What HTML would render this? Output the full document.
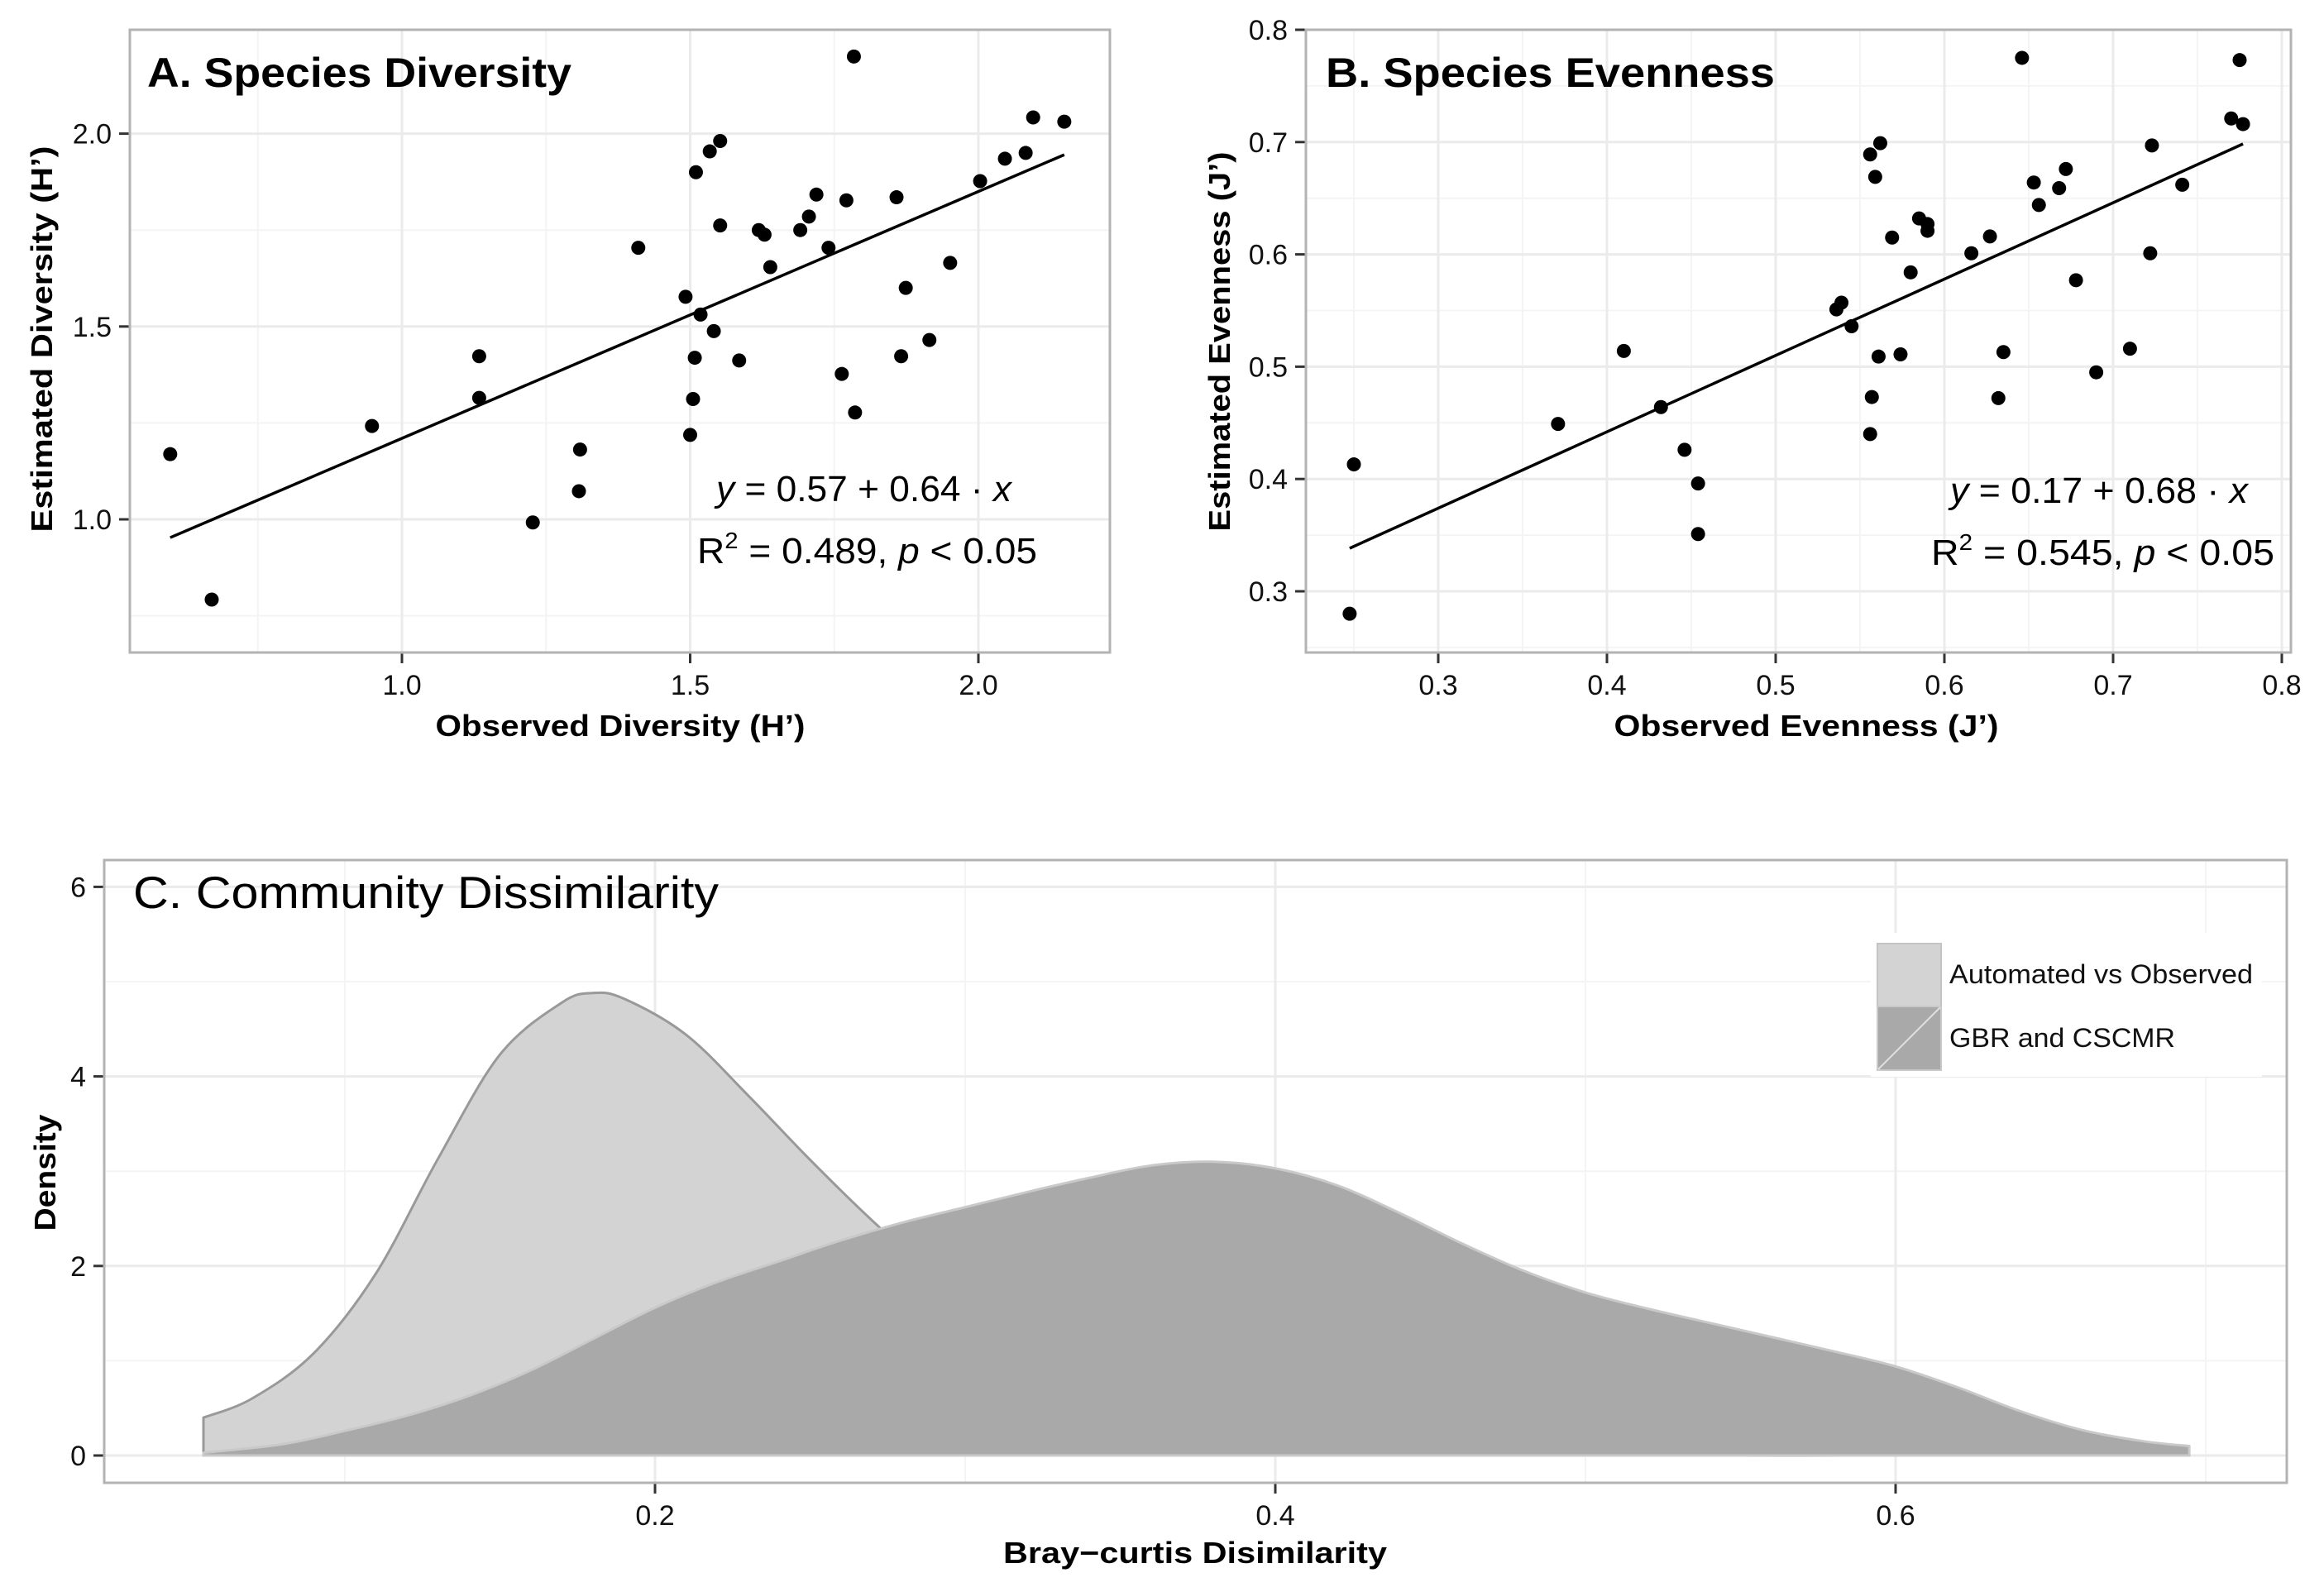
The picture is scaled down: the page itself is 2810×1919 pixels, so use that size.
<!DOCTYPE html>
<html><head><meta charset="utf-8"><style>
html,body{margin:0;padding:0;background:#fff;}
svg{display:block;font-family:"Liberation Sans","DejaVu Sans",sans-serif;}
</style></head><body>
<svg id="fig" width="2810" height="1919" viewBox="0 0 2810 1919" xmlns="http://www.w3.org/2000/svg">
<rect x="0" y="0" width="2810" height="1919" fill="#fff"/>
<g id="gA"></g>
<g id="gB"></g>
<g id="gC"></g>

<text x="178" y="105" font-size="50" font-weight="bold" textLength="513" lengthAdjust="spacingAndGlyphs">A. Species Diversity</text>
<text x="750" y="890" font-size="36" font-weight="bold" text-anchor="middle" textLength="447" lengthAdjust="spacingAndGlyphs">Observed Diversity (H’)</text>
<text transform="translate(63,410) rotate(-90)" font-size="36" font-weight="bold" text-anchor="middle" textLength="467" lengthAdjust="spacingAndGlyphs">Estimated Diversity (H’)</text>
<text x="866" y="606" font-size="44" textLength="357" lengthAdjust="spacingAndGlyphs"><tspan font-style="italic">y</tspan> = 0.57 + 0.64 · <tspan font-style="italic">x</tspan></text>
<text x="843" y="681" font-size="44" textLength="411" lengthAdjust="spacingAndGlyphs">R<tspan dy="-18" font-size="28">2</tspan><tspan dy="18"> = 0.489, </tspan><tspan font-style="italic">p</tspan> &lt; 0.05</text>

<text x="1603" y="105" font-size="50" font-weight="bold" textLength="543" lengthAdjust="spacingAndGlyphs">B. Species Evenness</text>
<text x="2184" y="890" font-size="36" font-weight="bold" text-anchor="middle" textLength="465" lengthAdjust="spacingAndGlyphs">Observed Evenness (J’)</text>
<text transform="translate(1487,413) rotate(-90)" font-size="36" font-weight="bold" text-anchor="middle" textLength="459" lengthAdjust="spacingAndGlyphs">Estimated Evenness (J’)</text>
<text x="2358" y="608" font-size="44" textLength="360" lengthAdjust="spacingAndGlyphs"><tspan font-style="italic">y</tspan> = 0.17 + 0.68 · <tspan font-style="italic">x</tspan></text>
<text x="2335" y="683" font-size="44" textLength="415" lengthAdjust="spacingAndGlyphs">R<tspan dy="-18" font-size="28">2</tspan><tspan dy="18"> = 0.545, </tspan><tspan font-style="italic">p</tspan> &lt; 0.05</text>

<text x="1445" y="1890" font-size="36" font-weight="bold" text-anchor="middle" textLength="464" lengthAdjust="spacingAndGlyphs">Bray−curtis Disimilarity</text>
<text transform="translate(67,1418) rotate(-90)" font-size="36" font-weight="bold" text-anchor="middle" textLength="141" lengthAdjust="spacingAndGlyphs">Density</text>
</svg>
<script>
// ---------- Panel A data ----------
const diversityObserved = [0.598,0.670,0.948,1.134,1.134,1.227,1.309,1.307,1.410,1.492,1.500,1.505,1.508,1.510,1.518,1.541,1.534,1.552,1.552,1.585,1.619,1.629,1.639,1.691,1.706,1.719,1.740,1.763,1.771,1.784,1.786,1.858,1.866,1.874,1.915,1.951,2.003,2.046,2.082,2.095,2.149];
const diversityEstimated = [1.169,0.792,1.242,1.423,1.315,0.992,1.181,1.073,1.704,1.577,1.219,1.312,1.419,1.900,1.531,1.488,1.954,1.981,1.762,1.412,1.750,1.738,1.654,1.750,1.785,1.842,1.704,1.377,1.827,2.200,1.277,1.835,1.423,1.600,1.465,1.665,1.877,1.935,1.950,2.042,2.031];
const diversityFit = [0.57, 0.64];
const diversityXTicks = ["1.0","1.5","2.0"];
const diversityYTicks = ["1.0","1.5","2.0"];
// ---------- Panel B data ----------
const evennessObserved = [0.2475,0.250,0.371,0.410,0.432,0.446,0.454,0.454,0.536,0.539,0.545,0.556,0.556,0.557,0.559,0.561,0.562,0.569,0.574,0.580,0.585,0.590,0.590,0.616,0.627,0.632,0.635,0.646,0.653,0.656,0.668,0.672,0.678,0.690,0.710,0.722,0.723,0.741,0.770,0.775,0.777];
const evennessEstimated = [0.280,0.413,0.449,0.514,0.464,0.426,0.396,0.351,0.551,0.557,0.536,0.689,0.440,0.473,0.669,0.509,0.699,0.615,0.511,0.584,0.632,0.627,0.621,0.601,0.616,0.472,0.513,0.775,0.664,0.644,0.659,0.676,0.577,0.495,0.516,0.601,0.697,0.662,0.721,0.773,0.716];
const evennessFit = [0.17, 0.68];
const evennessXTicks = ["0.3","0.4","0.5","0.6","0.7","0.8"];
const evennessYTicks = ["0.3","0.4","0.5","0.6","0.7","0.8"];
// ---------- Panel C data ----------
const autoX = [0.0544,0.07,0.09,0.11,0.13,0.15,0.17,0.18,0.19,0.21,0.23,0.25,0.27,0.29,0.31,0.33,0.35,0.40,0.45,0.50,0.55,0.60,0.65,0.6947];
const autoY = [0.40,0.60,1.08,1.92,3.13,4.23,4.78,4.88,4.82,4.44,3.80,3.12,2.48,1.90,1.40,1.00,0.66,0.22,0.06,0.01,0,0,0,0];
const gbrX = [0.0544,0.08,0.10,0.12,0.14,0.16,0.18,0.20,0.22,0.24,0.26,0.28,0.30,0.32,0.34,0.36,0.38,0.40,0.42,0.44,0.46,0.48,0.50,0.52,0.54,0.56,0.58,0.60,0.62,0.64,0.66,0.68,0.6947];
const gbrY = [0.03,0.12,0.26,0.42,0.63,0.90,1.23,1.56,1.83,2.05,2.27,2.46,2.62,2.78,2.93,3.06,3.10,3.03,2.85,2.56,2.24,1.95,1.72,1.55,1.40,1.25,1.10,0.94,0.72,0.47,0.27,0.15,0.10];
const densityXTicks = ["0.2","0.4","0.6"];
const densityYTicks = ["0","2","4","6"];
const legendLabels = ["Automated vs Observed","GBR and CSCMR"];

const NS = "http://www.w3.org/2000/svg";
function mk(parent, tag, attrs){
  const e = document.createElementNS(NS, tag);
  for (const k in attrs) e.setAttribute(k, attrs[k]);
  parent.appendChild(e);
  return e;
}
function lin(d0,d1,r0,r1){ return v => r0 + (v-d0)/(d1-d0)*(r1-r0); }

function frame(g, box, sx, sy, xMajor, xMinor, yMajor, yMinor, xLabels, yLabels, prefix){
  for (const v of yMinor){
    const l = mk(g,'line',{x1:box.l,x2:box.r,y1:sy(v),y2:sy(v),stroke:'#f4f4f4','stroke-width':2});
    
    
  }
  for (const v of xMinor){
    const l = mk(g,'line',{x1:sx(v),x2:sx(v),y1:box.t,y2:box.b,stroke:'#f4f4f4','stroke-width':2});
    
    
  }
  yMajor.forEach((v,i)=>{
    const l = mk(g,'line',{x1:box.l,x2:box.r,y1:sy(v),y2:sy(v),stroke:'#ebebeb','stroke-width':3});
    
    
    const t = mk(g,'line',{x1:box.l-13,x2:box.l,y1:sy(v),y2:sy(v),stroke:'#333','stroke-width':3});
    
    
    const tx = mk(g,'text',{x:box.l-22,y:sy(v)+12,'font-size':34,'text-anchor':'end',fill:'#111'});
    tx.textContent = yLabels[i];
    
    
  });
  xMajor.forEach((v,i)=>{
    const l = mk(g,'line',{x1:sx(v),x2:sx(v),y1:box.t,y2:box.b,stroke:'#ebebeb','stroke-width':3});
    
    
    const t = mk(g,'line',{x1:sx(v),x2:sx(v),y1:box.b,y2:box.b+13,stroke:'#333','stroke-width':3});
    
    
    const tx = mk(g,'text',{x:sx(v),y:box.b+51,'font-size':34,'text-anchor':'middle',fill:'#111'});
    tx.textContent = xLabels[i];
    
    
  });
}
function border(g, box, prefix){
  const b = mk(g,'rect',{x:box.l,y:box.t,width:box.r-box.l,height:box.b-box.t,fill:'none',stroke:'#b3b3b3','stroke-width':3});
  
  
}
function scatter(g, xs, ys, fit, sx, sy, prefix){
  const xmin = Math.min(...xs), xmax = Math.max(...xs);
  const ln = mk(g,'line',{x1:sx(xmin),y1:sy(fit[0]+fit[1]*xmin),x2:sx(xmax),y2:sy(fit[0]+fit[1]*xmax),stroke:'#000','stroke-width':3.5});
  
  
  xs.forEach((x,i)=>{
    const c = mk(g,'circle',{cx:sx(x),cy:sy(ys[i]),r:8.5,fill:'#000'});
    
    
  });
}

// Panel A
(function(){
  const g = document.getElementById('gA');
  const box = {l:157,r:1342,t:36,b:789};
  const sx = lin(1.0,2.0,486,1183), sy = lin(1.0,2.0,628,161.6);
  frame(g,box,sx,sy,diversityXTicks.map(Number),[0.75,1.25,1.75],diversityYTicks.map(Number),[0.75,1.25,1.75],diversityXTicks,diversityYTicks,'panel-a');
  border(g,box,'panel-a');
  scatter(g,diversityObserved,diversityEstimated,diversityFit,sx,sy,'panel-a');
})();
// Panel B
(function(){
  const g = document.getElementById('gB');
  const box = {l:1579,r:2770,t:36,b:789};
  const sx = lin(0.3,0.8,1739,2759), sy = lin(0.3,0.8,715,36);
  frame(g,box,sx,sy,evennessXTicks.map(Number),[0.25,0.35,0.45,0.55,0.65,0.75],evennessYTicks.map(Number),[0.25,0.35,0.45,0.55,0.65,0.75],evennessXTicks,evennessYTicks,'panel-b');
  border(g,box,'panel-b');
  scatter(g,evennessObserved,evennessEstimated,evennessFit,sx,sy,'panel-b');
})();
// Panel C
(function(){
  const g = document.getElementById('gC');
  const box = {l:126,r:2765,t:1040,b:1793};
  const sx = lin(0.2,0.6,792,2292), sy = lin(0,6,1760,1072.4);
  frame(g,box,sx,sy,densityXTicks.map(Number),[0.1,0.3,0.5,0.7],densityYTicks.map(Number),[1,3,5],densityXTicks,densityYTicks,'panel-c');
  function smooth(xs, ys){
    const P = xs.map((x,i)=>[sx(x),sy(ys[i])]);
    let d = 'M'+P[0][0]+','+P[0][1];
    for (let i=0;i<P.length-1;i++){
      const p0=P[Math.max(0,i-1)],p1=P[i],p2=P[i+1],p3=P[Math.min(P.length-1,i+2)];
      const c1=[p1[0]+(p2[0]-p0[0])/6,p1[1]+(p2[1]-p0[1])/6];
      const c2=[p2[0]-(p3[0]-p1[0])/6,p2[1]-(p3[1]-p1[1])/6];
      d+=' C'+c1[0]+','+c1[1]+' '+c2[0]+','+c2[1]+' '+p2[0]+','+p2[1];
    }
    return d;
  }
  function area(xs, ys, fill, stroke, name){
    const top = smooth(xs,ys);
    const x0 = sx(xs[0]), x1 = sx(xs[xs.length-1]), y0 = sy(0);
    const d = 'M'+x0+','+y0+' L'+top.slice(1)+' L'+x1+','+y0+' Z';
    const p = mk(g,'path',{d:d,fill:fill,stroke:stroke,'stroke-width':3,'stroke-linejoin':'round'});
    
    
  }
  area(autoX,autoY,'#d3d3d3','#999999','density-automated-vs-observed');
  area(gbrX,gbrY,'#a9a9a9','#c9c9c9','density-gbr-and-cscmr');
  // legend
  const lg = mk(g,'g',{});
  
  
  const bg = mk(lg,'rect',{x:2262,y:1128,width:473,height:174,fill:'#fff'});
  
  
  const k1 = mk(lg,'rect',{x:2270,y:1141,width:77,height:76,fill:'#d3d3d3',stroke:'#c4c4c4','stroke-width':2});
  
  
  const k2 = mk(lg,'rect',{x:2270,y:1217,width:77,height:77,fill:'#a9a9a9',stroke:'#c9c9c9','stroke-width':2});
  
  
  const dl = mk(lg,'line',{x1:2271,y1:1293,x2:2346,y2:1218,stroke:'#e0e0e0','stroke-width':2});
  
  
  const t1 = mk(lg,'text',{x:2357,y:1189,'font-size':32,textLength:367,lengthAdjust:'spacingAndGlyphs',fill:'#111'});
  t1.textContent = legendLabels[0];
  
  
  const t2 = mk(lg,'text',{x:2357,y:1266,'font-size':32,textLength:273,lengthAdjust:'spacingAndGlyphs',fill:'#111'});
  t2.textContent = legendLabels[1];
  
  
  border(g,box,'panel-c');
  const ttl = mk(g,'text',{x:161,y:1098,'font-size':55,textLength:708,lengthAdjust:'spacingAndGlyphs',fill:'#000'});
  ttl.textContent = 'C. Community Dissimilarity';
  
  
})();
</script>
</body></html>
